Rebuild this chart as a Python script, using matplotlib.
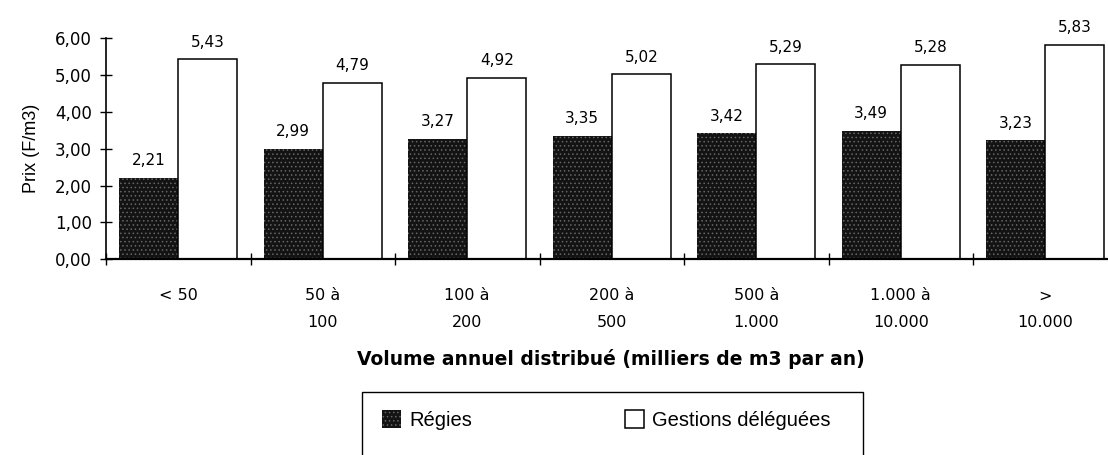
import matplotlib
matplotlib.use("Agg")
import matplotlib.pyplot as plt
from matplotlib.patches import Rectangle

plt.rcParams['font.family'] = ['DejaVu Sans']
plt.rcParams['hatch.linewidth'] = 0.6

# Price of water by annual distributed volume
categories = ["< 50", "50 à\n100", "100 à\n200", "200 à\n500", "500 à\n1.000",
              "1.000 à\n10.000", ">\n10.000"]
regies = [2.21, 2.99, 3.27, 3.35, 3.42, 3.49, 3.23]
gestions = [5.43, 4.79, 4.92, 5.02, 5.29, 5.28, 5.83]
yticks = [0, 1, 2, 3, 4, 5, 6]
series_names = ["Régies", "Gestions déléguées"]

W, H = 1108, 455
fig = plt.figure(figsize=(W / 100, H / 100), dpi=100)
ax = fig.add_axes([106 / W, (H - 259.3) / H, 1011.5 / W, 221 / H])

n = len(categories)
bw = 0.41
xs = list(range(n))
b1 = ax.bar([x + 0.5 - bw / 2 for x in xs], regies, width=bw,
            facecolor='#131313', edgecolor='#666666', linewidth=0,
            hatch='....', label=series_names[0])
b2 = ax.bar([x + 0.5 + bw / 2 for x in xs], gestions, width=bw,
            facecolor='white', edgecolor='black', linewidth=1.1,
            label=series_names[1])

def fr(v):
    return f"{v:.2f}".replace('.', ',')

ax.bar_label(b1, labels=[fr(v) for v in regies], padding=7, fontsize=11)
ax.bar_label(b2, labels=[fr(v) for v in gestions], padding=7, fontsize=11)

ax.set_xlim(0, n)
ax.set_ylim(0, 6)
ax.set_yticks(yticks, [fr(v) for v in yticks], fontsize=12)
ax.set_xticks(range(n + 1), [''] * (n + 1))
ax.set_xticks([x + 0.5 for x in xs], categories, minor=True, fontsize=11.5,
              linespacing=1.95)
ax.tick_params(axis='y', direction='inout', length=8, width=1, pad=6)
ax.tick_params(axis='x', which='major', direction='inout', length=8, width=1)
ax.tick_params(axis='x', which='minor', length=0, pad=21)

for s in ('top', 'right'):
    ax.spines[s].set_visible(False)
ax.spines['left'].set_linewidth(1.2)
ax.spines['bottom'].set_linewidth(1.6)
ax.spines['bottom'].set_bounds(0, n)

ax.set_ylabel("Prix (F/m3)", fontsize=13, family='Liberation Sans', labelpad=11)
fig.text(611 / W, 1 - 359 / H, "Volume annuel distribué (milliers de m3 par an)",
         ha='center', va='center', fontsize=13.5, fontweight='bold')

# Legend box, open at the bottom edge of the figure
fig.patches.append(Rectangle((362 / W, -0.1), 501 / W, 0.1 + (H - 392) / H,
                             transform=fig.transFigure, fill=False,
                             edgecolor='black', linewidth=1.0))
fig.legend(handles=[b1, b2], labels=series_names, ncol=2, frameon=False,
           loc='center left', bbox_to_anchor=(374 / W, 1 - 420 / H),
           prop={'family': 'Liberation Sans', 'size': 14.5},
           handlelength=0.95, handleheight=0.95,
           handletextpad=0.4, columnspacing=7.6, borderaxespad=0)

fig.savefig("out.png", dpi=100)
